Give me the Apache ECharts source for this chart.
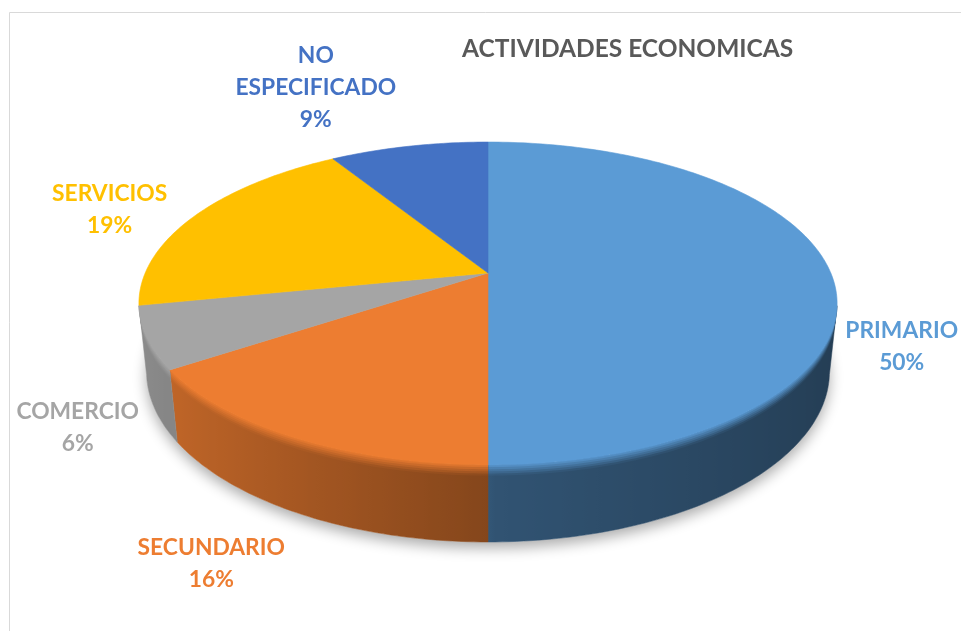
<!DOCTYPE html>
<html><head><meta charset="utf-8">
<script src="https://cdn.jsdelivr.net/npm/echarts@6/dist/echarts.min.js"></script>
<style>html,body{margin:0;padding:0;background:#fff}#chart{width:961px;height:631px}</style>
</head><body><div id="chart"></div>
<script>
// ---------- data ----------
const categories = ['PRIMARIO', 'SECUNDARIO', 'COMERCIO', 'SERVICIOS', 'NO ESPECIFICADO'];
const values = [50, 15.6, 6.2, 19.4, 8.8];
const labelLines = ['PRIMARIO', 'SECUNDARIO', 'COMERCIO', 'SERVICIOS', 'NO\nESPECIFICADO'];
const chartTitle = 'ACTIVIDADES ECONOMICAS';

// ---------- style / layout ----------
const colors = ['#5b9bd5', '#ed7d31', '#a5a5a5', '#ffc000', '#4472c4'];
const labelNudge = [[11, 7], [-41, 7], [-4, 4], [-32, 5], [-80, -38]];
const VIEW = { cx: 488, cy: 273, f: 1616, D: 4.714, s: 0.4542, c: 0.8909, h: 0.2235, labelR: 1.2, bevel: 0.03 };
const FONT = 'Lato, "Open Sans", sans-serif';

const total = values.reduce((a, b) => a + b, 0);
const rad = a => a * Math.PI / 180;
function proj(X, Y, Z) {
  const d = VIEW.D - Y * VIEW.s - Z * VIEW.c;
  return [VIEW.cx + VIEW.f * X / d, VIEW.cy + VIEW.f * (Z * VIEW.s - Y * VIEW.c) / d];
}
function rim(phi, Y, r) {
  r = r || 1;
  const p = rad(phi);
  return proj(r * Math.sin(p), Y, -r * Math.cos(p));
}
function sliceAngles(i) {
  let cum = 0;
  for (let k = 0; k < i; k++) cum += values[k];
  return [cum / total * 360, (cum + values[i]) / total * 360];
}
function rgbOf(hex) {
  const n = parseInt(hex.slice(1), 16);
  return [(n >> 16) & 255, (n >> 8) & 255, n & 255];
}
function toCss(a) { return 'rgb(' + a.map(v => Math.max(0, Math.min(255, Math.round(v)))).join(',') + ')'; }
function sideRgb(hex, phi) {
  const sn = Math.sin(rad(phi));
  const L = sn < 0 ? 0.56 - 0.3 * sn : 0.54 - 0.15 * sn;
  return rgbOf(hex).map(v => v * L);
}
function mix(a, b, m) { return a.map((v, k) => v * (1 - m) + b[k] * m); }

// visible front range of the cylinder wall
const cosLimit = -0.85 / (VIEW.D * VIEW.c);
const visLo = Math.acos(cosLimit) * 180 / Math.PI;
const visHi = 360 - visLo;

function renderSide(params, api) {
  const i = params.dataIndex;
  const [a0, a1] = sliceAngles(i);
  const h = VIEW.h;
  const children = [];
  if (i === 0) {
    const pts = [];
    for (let a = 0; a <= 360; a += 2) pts.push(rim(a, -h));
    children.push({ type: 'polygon', silent: true, shape: { points: pts },
      style: { fill: '#ffffff', shadowColor: 'rgba(0,0,0,0.33)', shadowBlur: 14, shadowOffsetY: 6 } });
  }
  const b0 = Math.max(a0, visLo), b1 = Math.min(a1, visHi);
  if (b1 <= b0) return { type: 'group', children: children };
  const n = Math.max(2, Math.ceil(b1 - b0));
  const phis = [];
  for (let k = 0; k <= n; k++) phis.push(b0 + (b1 - b0) * k / n);
  const xs = phis.map(p => rim(p, 0)[0]);
  const xmin = Math.min.apply(null, xs), xmax = Math.max.apply(null, xs);
  const top = rgbOf(colors[i]);
  function grad(m) {
    const stops = phis.map((p, k) => ({ offset: (xs[k] - xmin) / Math.max(1, xmax - xmin),
      color: toCss(mix(sideRgb(colors[i], p), top, m)) }));
    stops.sort((a, b) => a.offset - b.offset);
    return { type: 'linear', x: xmin, y: 0, x2: xmax, y2: 0, global: true, colorStops: stops };
  }
  function band(depth) {
    const pts = phis.map(p => rim(p, 0));
    for (let k = phis.length - 1; k >= 0; k--) pts.push(rim(phis[k], -depth));
    return pts;
  }
  const full = grad(0);
  children.push({ type: 'polygon', silent: true, shape: { points: band(h) },
    style: { fill: full, stroke: full, lineWidth: 0.5 } });
  const N = 5;
  for (let k = 0; k < N; k++) {
    const t = VIEW.bevel * (N - k) / N;
    const m = 1 - (t - VIEW.bevel / (2 * N)) / VIEW.bevel;
    children.push({ type: 'polygon', silent: true, shape: { points: band(t) },
      style: { fill: grad(m * 0.9) } });
  }
  return { type: 'group', children: children };
}

function renderTop(params, api) {
  const i = params.dataIndex;
  const [a0, a1] = sliceAngles(i);
  const pts = [proj(0, 0, 0)];
  const n = Math.max(2, Math.ceil(a1 - a0));
  for (let k = 0; k <= n; k++) pts.push(rim(a0 + (a1 - a0) * k / n, 0));
  const mid = (a0 + a1) / 2;
  const Z = -Math.cos(rad(mid));
  const Y = Z > -0.1 ? -VIEW.h : 0;
  const r = VIEW.labelR;
  const anchor = proj(r * Math.sin(rad(mid)), Y, r * Z);
  const pct = Math.round(api.value(0) / total * 100);
  return { type: 'group', children: [
    { type: 'polygon', shape: { points: pts }, style: { fill: colors[i], stroke: colors[i], lineWidth: 0.6 } },
    { type: 'text', x: anchor[0] + labelNudge[i][0], y: anchor[1] + labelNudge[i][1],
      style: { text: labelLines[i] + '\n' + pct + '%', fill: colors[i], fontFamily: FONT, fontWeight: 'bold',
        fontSize: 22.8, lineHeight: 32, align: 'center', verticalAlign: 'middle' } }
  ] };
}

const chart = echarts.init(document.getElementById('chart'), null, { renderer: 'canvas' });
chart.setOption({
  animation: false,
  backgroundColor: '#ffffff',
  title: { text: chartTitle, left: 457, top: 32,
    textStyle: { color: '#595959', fontFamily: FONT, fontWeight: 'bold', fontSize: 24.5 } },
  graphic: [{ type: 'rect', silent: true, shape: { x: 9.5, y: 12.5, width: 960, height: 640 },
    style: { fill: 'none', stroke: '#d9d9d9', lineWidth: 1 } }],
  series: [
    { type: 'custom', name: 'lados', coordinateSystem: 'none', z: 1, renderItem: renderSide,
      data: values.map((v, i) => ({ name: categories[i], value: [v] })) },
    { type: 'custom', name: 'superficie', coordinateSystem: 'none', z: 2, renderItem: renderTop,
      data: values.map((v, i) => ({ name: categories[i], value: [v] })) }
  ]
});
</script></body></html>
